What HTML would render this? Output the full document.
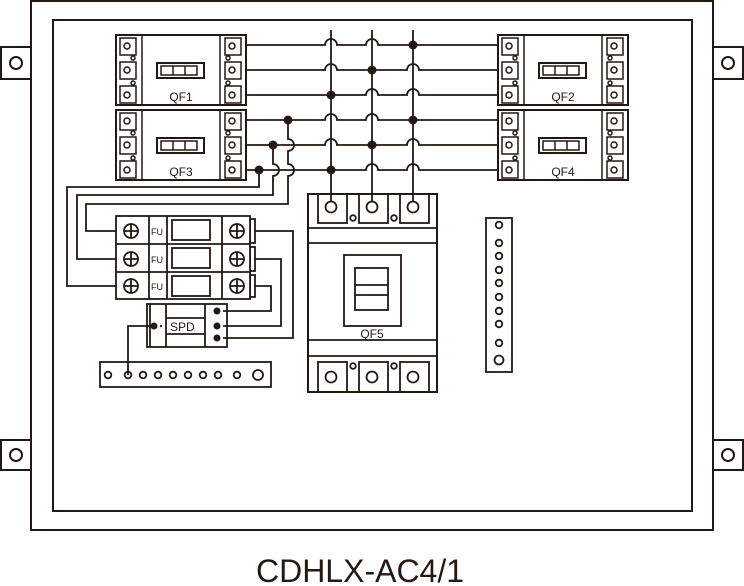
<!DOCTYPE html>
<html><head><meta charset="utf-8"><style>body{margin:0;background:#fff}svg{display:block}</style></head>
<body>
<svg width="744" height="586" viewBox="0 0 744 586" xmlns="http://www.w3.org/2000/svg" font-family="Liberation Sans, sans-serif">
<defs>
<g id="brk" fill="none" stroke="#231815" stroke-width="1.5">
<rect x="0" y="0" width="130" height="70" stroke-width="2"/>
<line x1="26" y1="0" x2="26" y2="70"/><line x1="104" y1="0" x2="104" y2="70"/>
<rect x="4" y="3" width="16" height="17"/><rect x="4" y="27" width="16" height="17"/><rect x="4" y="51" width="16" height="17"/>
<circle cx="11" cy="11" r="3"/><circle cx="11" cy="35" r="3"/><circle cx="11" cy="60" r="3"/>
<circle cx="17" cy="23" r="2"/><circle cx="17" cy="48" r="2"/>
<rect x="109" y="3" width="16" height="17"/><rect x="109" y="27" width="16" height="17"/><rect x="109" y="51" width="16" height="17"/>
<circle cx="116" cy="11" r="3"/><circle cx="116" cy="35" r="3"/><circle cx="116" cy="60" r="3"/>
<circle cx="112" cy="23" r="2"/><circle cx="112" cy="48" r="2"/>
<rect x="41" y="28" width="47" height="15" stroke-width="2"/>
<rect x="45" y="31" width="36" height="9"/><line x1="57" y1="31" x2="57" y2="40"/><line x1="69" y1="31" x2="69" y2="40"/>
</g>
</defs>
<g fill="none" stroke="#231815" stroke-width="2">
<rect x="31" y="1" width="682" height="529"/>
<rect x="53" y="20" width="639" height="491"/>
<rect x="1" y="47" width="30" height="32"/><rect x="1" y="440" width="30" height="30"/>
<rect x="713" y="47" width="30" height="32"/><rect x="713" y="440" width="30" height="30"/>
<circle cx="16" cy="63" r="6"/><circle cx="16" cy="455" r="6"/><circle cx="728" cy="63" r="6"/><circle cx="728" cy="455" r="6"/>
</g>
<use href="#brk" x="116" y="35"/><use href="#brk" x="116" y="110"/>
<use href="#brk" x="498" y="35"/><use href="#brk" x="498" y="110"/>
<g font-size="12" fill="#231815" text-anchor="middle">
<text x="181" y="101">QF1</text><text x="181" y="176">QF3</text>
<text x="563" y="101">QF2</text><text x="563" y="176">QF4</text>
</g>
<g fill="none" stroke="#231815" stroke-width="1.8">
<path d="M245 45H325a6 6 0 0 1 12 0H366a6 6 0 0 1 12 0H498"/>
<path d="M245 70H325a6 6 0 0 1 12 0H407a6 6 0 0 1 12 0H498"/>
<path d="M245 95H366a6 6 0 0 1 12 0H407a6 6 0 0 1 12 0H498"/>
<path d="M245 120H325a6 6 0 0 1 12 0H366a6 6 0 0 1 12 0H498"/>
<path d="M245 145H325a6 6 0 0 1 12 0H407a6 6 0 0 1 12 0H498"/>
<path d="M245 170H366a6 6 0 0 1 12 0H407a6 6 0 0 1 12 0H498"/>
<path d="M331 30V207M372 30V207M413 30V207"/>
<path d="M288 120V139a6 6 0 0 1 0 12V164a6 6 0 0 1 0 12V204H86V231H116"/>
<path d="M273 145V164a6 6 0 0 1 0 12V195H77V259H116"/>
<path d="M259 170V187H67V286H116"/>
<path d="M250 231H293V338H223"/>
<path d="M250 259H281V326H223"/>
<path d="M250 286H271V311H223"/>
<path d="M154 326H128V375"/>
</g>
<g fill="#231815">
<circle cx="413" cy="45" r="4.5"/><circle cx="372" cy="70" r="4.5"/><circle cx="331" cy="95" r="4.5"/>
<circle cx="413" cy="120" r="4.5"/><circle cx="372" cy="145" r="4.5"/><circle cx="331" cy="170" r="4.5"/>
<circle cx="288" cy="120" r="4.5"/><circle cx="273" cy="145" r="4.5"/><circle cx="259" cy="170" r="4.5"/>
</g>
<g fill="#fff" stroke="#231815" stroke-width="1.8">
<rect x="250" y="219" width="5" height="24"/><rect x="250" y="247" width="5" height="24"/><rect x="250" y="275" width="5" height="22"/>
<rect x="116" y="216" width="134" height="83"/>
<line x1="116" y1="244" x2="250" y2="244"/><line x1="116" y1="272" x2="250" y2="272"/>
<line x1="149" y1="216" x2="149" y2="299"/><line x1="167" y1="216" x2="167" y2="299"/><line x1="222" y1="216" x2="222" y2="299"/>
<rect x="172" y="220" width="38" height="20"/><rect x="172" y="248" width="38" height="20"/><rect x="172" y="276" width="38" height="20"/>
<circle cx="131" cy="231" r="7"/><circle cx="131" cy="259" r="7"/><circle cx="131" cy="286" r="7"/>
<circle cx="237" cy="231" r="7"/><circle cx="237" cy="259" r="7"/><circle cx="237" cy="286" r="7"/>
<path d="M124 231h14M131 224v14M124 259h14M131 252v14M124 286h14M131 279v14M230 231h14M237 224v14M230 259h14M237 252v14M230 286h14M237 279v14" fill="none"/>
</g>
<g font-size="9" fill="#231815"><text x="151" y="235">FU</text><text x="151" y="263">FU</text><text x="151" y="290">FU</text></g>
<g fill="none" stroke="#231815" stroke-width="1.8">
<rect x="147" y="304" width="80" height="43"/>
<line x1="150" y1="304" x2="150" y2="347"/>
<line x1="166" y1="304" x2="166" y2="347"/><line x1="205" y1="304" x2="205" y2="347"/>
<line x1="166" y1="318" x2="205" y2="318"/><line x1="166" y1="334" x2="205" y2="334"/>
</g>
<g fill="#231815"><circle cx="154" cy="326" r="3.5"/><circle cx="217" cy="311" r="3.5"/><circle cx="217" cy="326" r="3.5"/><circle cx="217" cy="338" r="3.5"/><circle cx="161" cy="326" r="1.2"/></g>
<text x="170" y="331" font-size="12" fill="#231815">SPD</text>
<g fill="none" stroke="#231815" stroke-width="1.8">
<rect x="100" y="362" width="171" height="25"/>
<circle cx="108" cy="375" r="3.3"/><circle cx="128" cy="375" r="3.3"/><circle cx="143" cy="375" r="3.3"/><circle cx="158" cy="375" r="3.3"/><circle cx="173" cy="375" r="3.3"/><circle cx="188" cy="375" r="3.3"/><circle cx="203" cy="375" r="3.3"/><circle cx="218" cy="375" r="3.3"/><circle cx="237" cy="375" r="3.3"/><circle cx="258" cy="375" r="5"/>
<rect x="486" y="218" width="26" height="154"/>
<circle cx="499" cy="225" r="3.3"/><circle cx="499" cy="243" r="3.3"/><circle cx="499" cy="256" r="3.3"/><circle cx="499" cy="270" r="3.3"/><circle cx="499" cy="283" r="3.3"/><circle cx="499" cy="297" r="3.3"/><circle cx="499" cy="311" r="3.3"/><circle cx="499" cy="324" r="3.3"/><circle cx="499" cy="343" r="3.3"/><circle cx="499" cy="360" r="4.5"/>
</g>
<g fill="none" stroke="#231815" stroke-width="1.8">
<rect x="308" y="194" width="129" height="198" stroke-width="2"/>
<rect x="318" y="194" width="29" height="29"/><rect x="359" y="194" width="29" height="29"/><rect x="400" y="194" width="29" height="29"/>
<circle cx="331" cy="207" r="5.5" fill="#fff"/><circle cx="372" cy="207" r="5.5" fill="#fff"/><circle cx="413" cy="207" r="5.5" fill="#fff"/>
<circle cx="353" cy="218" r="2.8"/><circle cx="394" cy="218" r="2.8"/>
<line x1="308" y1="228" x2="437" y2="228"/><line x1="308" y1="243" x2="437" y2="243"/>
<rect x="344" y="255" width="57" height="71"/>
<rect x="355" y="268" width="33" height="42"/><line x1="355" y1="285" x2="388" y2="285"/><line x1="355" y1="295" x2="388" y2="295"/>
<line x1="308" y1="340" x2="437" y2="340"/><line x1="308" y1="356" x2="437" y2="356"/>
<rect x="318" y="362" width="29" height="30"/><rect x="359" y="362" width="29" height="30"/><rect x="400" y="362" width="29" height="30"/>
<circle cx="331" cy="377" r="5.5"/><circle cx="372" cy="377" r="5.5"/><circle cx="413" cy="377" r="5.5"/>
<circle cx="353" cy="366" r="2.8"/><circle cx="394" cy="366" r="2.8"/>
</g>
<text x="372" y="338" font-size="12" fill="#231815" text-anchor="middle">QF5</text>
<text x="360" y="582" font-size="32" fill="#231815" text-anchor="middle">CDHLX-AC4/1</text>
</svg>
</body></html>
